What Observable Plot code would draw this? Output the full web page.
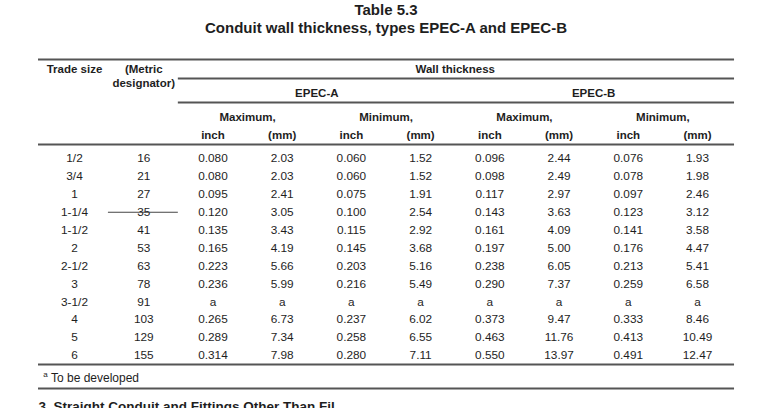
<!DOCTYPE html>
<html>
<head>
<meta charset="utf-8">
<script src="https://cdn.jsdelivr.net/npm/d3@7"></script>
<script src="https://cdn.jsdelivr.net/npm/@observablehq/plot@0.6"></script>
<style>
  html, body { margin: 0; padding: 0; background: #fff; }
  #chart svg { display: block; }
</style>
</head>
<body>
<div id="chart"></div>
<script>
const tradeSizes = ["1/2","3/4","1","1-1/4","1-1/2","2","2-1/2","3","3-1/2","4","5","6"];
const metricDesignators = [16,21,27,35,41,53,63,78,91,103,129,155];
// null = "a" (to be developed)
const epecAMaxInch = [0.080,0.080,0.095,0.120,0.135,0.165,0.223,0.236,null,0.265,0.289,0.314];
const epecAMaxMm   = [2.03,2.03,2.41,3.05,3.43,4.19,5.66,5.99,null,6.73,7.34,7.98];
const epecAMinInch = [0.060,0.060,0.075,0.100,0.115,0.145,0.203,0.216,null,0.237,0.258,0.280];
const epecAMinMm   = [1.52,1.52,1.91,2.54,2.92,3.68,5.16,5.49,null,6.02,6.55,7.11];
const epecBMaxInch = [0.096,0.098,0.117,0.143,0.161,0.197,0.238,0.290,null,0.373,0.463,0.550];
const epecBMaxMm   = [2.44,2.49,2.97,3.63,4.09,5.00,6.05,7.37,null,9.47,11.76,13.97];
const epecBMinInch = [0.076,0.078,0.097,0.123,0.141,0.176,0.213,0.259,null,0.333,0.413,0.491];
const epecBMinMm   = [1.93,1.98,2.46,3.12,3.58,4.47,5.41,6.58,null,8.46,10.49,12.47];

const title = "Table 5.3";
const subtitle = "Conduit wall thickness, types EPEC-A and EPEC-B";
const groupLabel = "Wall thickness";
const typeLabels = ["EPEC-A", "EPEC-B"];
const limitLabels = ["Maximum,", "Minimum,", "Maximum,", "Minimum,"];
const unitLabels = ["inch", "(mm)"];
const footnoteMark = "a";
const footnote = "To be developed";
const nextHeading = "3. Straight Conduit and Fittings Other Than Fil";

// ---- Build table cells ----
const valueColumns = [
  [epecAMaxInch, 3], [epecAMaxMm, 2], [epecAMinInch, 3], [epecAMinMm, 2],
  [epecBMaxInch, 3], [epecBMaxMm, 2], [epecBMinInch, 3], [epecBMinMm, 2]
];
const cells = [];
tradeSizes.forEach((t, i) => {
  cells.push({row: i, col: 0, text: t});
  cells.push({row: i, col: 1, text: String(metricDesignators[i])});
  valueColumns.forEach(([arr, dec], j) => {
    const v = arr[i];
    cells.push({row: i, col: j + 2, text: v == null ? footnoteMark : v.toFixed(dec)});
  });
});

// header layout (column units / row units)
const R = {title: -8.27, subtitle: -7.3, top: -5.53, head1: -4.97, head1b: -4.19,
  wallLine: -4.47, type: -3.63, typeLine: -3.13, limit: -2.29, unit: -1.28,
  headBottom: -0.78, tableBottom: 11.5, foot: 12.28, footLine: 12.84, next: 13.85};
const L = -0.52, RIGHT = 9.535, SPAN = 1.5;

const unitCells = d3.range(8).map(j => ({col: j + 2, text: unitLabels[j % 2]}));
const limitCells = limitLabels.map((t, j) => ({col: 2.5 + 2 * j, text: t}));
const typeCells = typeLabels.map((t, j) => ({col: 3.5 + 4 * j, text: t}));

const lines = [
  {y: R.top, x1: L, x2: RIGHT},
  {y: R.wallLine, x1: SPAN, x2: RIGHT},
  {y: R.typeLine, x1: SPAN, x2: RIGHT},
  {y: R.headBottom, x1: L, x2: RIGHT},
  {y: R.tableBottom, x1: L, x2: RIGHT},
  {y: R.footLine, x1: L, x2: RIGHT}
];

const ink = "#1e1e1e";
const lineColor = "#555";
const fs = 11.8;

const chart = Plot.plot({
  width: 771,
  height: 408,
  margin: 0,
  x: {domain: [0, 9], range: [74, 697], axis: null},
  y: {domain: [0, 11], range: [158, 355], axis: null},
  style: {fontFamily: "'Liberation Sans', Arial, Helvetica, sans-serif", background: "#fff", color: ink},
  marks: [
    Plot.text([title], {x: () => 4.5, y: () => R.title, text: d => d, fontSize: 15, fontWeight: "bold", fill: ink}),
    Plot.text([subtitle], {x: () => 4.5, y: () => R.subtitle, text: d => d, fontSize: 15, fontWeight: "bold", fill: ink}),
    Plot.ruleY(lines, {y: "y", x1: "x1", x2: "x2", stroke: lineColor, strokeWidth: 2}),
    Plot.text(["Trade size"], {x: () => 0, y: () => R.head1, text: d => d, fontSize: 11.5, fontWeight: "bold", fill: ink}),
    Plot.text(["(Metric"], {x: () => 1, y: () => R.head1, text: d => d, fontSize: 11.5, fontWeight: "bold", fill: ink}),
    Plot.text(["designator)"], {x: () => 1, y: () => R.head1b, text: d => d, fontSize: 11.5, fontWeight: "bold", fill: ink}),
    Plot.text([groupLabel], {x: () => 5.5, y: () => R.head1, text: d => d, fontSize: 11.5, fontWeight: "bold", fill: ink}),
    Plot.text(typeCells, {x: "col", y: () => R.type, text: "text", fontSize: 11.5, fontWeight: "bold", fill: ink}),
    Plot.text(limitCells, {x: "col", y: () => R.limit, text: "text", fontSize: 11.5, fontWeight: "bold", fill: ink}),
    Plot.text(unitCells, {x: "col", y: () => R.unit, text: "text", fontSize: 11.5, fontWeight: "bold", fill: ink}),
    Plot.text(cells, {x: "col", y: "row", text: "text", fontSize: fs, fill: ink}),
    // scan strike-through over the "35" metric designator
    Plot.ruleY([3], {y: d => d, x1: () => 0.49, x2: () => 1.5, stroke: "#444", strokeWidth: 1.2}),
    Plot.text([footnoteMark], {x: () => -0.45, y: () => R.foot - 0.2, text: d => d, fontSize: 8, textAnchor: "start", fill: ink}),
    Plot.text([footnote], {x: () => -0.34, y: () => R.foot, text: d => d, fontSize: 12, textAnchor: "start", fill: ink}),
    Plot.text([nextHeading], {x: () => L, y: () => R.next, text: d => d, fontSize: 13.5, fontWeight: "bold", textAnchor: "start", fill: ink})
  ]
});
document.getElementById("chart").appendChild(chart);
</script>
</body>
</html>
